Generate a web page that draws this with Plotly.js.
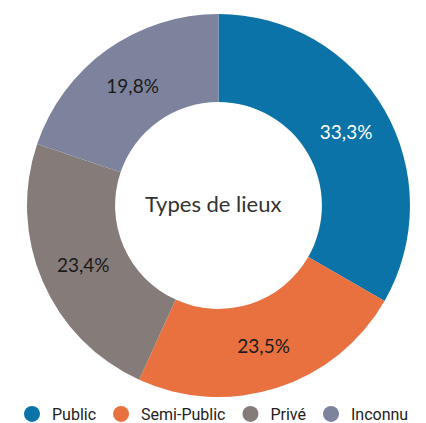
<!DOCTYPE html>
<html>
<head>
<meta charset="utf-8">
<script src="https://cdn.plot.ly/plotly-3.0.1.min.js"></script>
<style>html,body{margin:0;padding:0;background:#fff;}#chart{width:426px;height:423px;}</style>
</head>
<body>
<div id="chart"></div>
<script>
const categories = ["Public", "Semi-Public", "Privé", "Inconnu"];
const values = [33.3, 23.5, 23.4, 19.8];
const colors = ["#0B73A8", "#E8713F", "#857B79", "#7E839D"];
const textColors = ["#ffffff", "#1a1a1a", "#1a1a1a", "#1a1a1a"];
const centerTitle = "Types de lieux";

const pie = {
  type: "pie",
  labels: categories,
  values: values,
  hole: 0.54,
  sort: false,
  direction: "clockwise",
  rotation: 0,
  showlegend: false,
  marker: { colors: colors, line: { width: 0 } },
  texttemplate: "%{percent:.1%}",
  textposition: "inside",
  insidetextorientation: "horizontal",
  insidetextfont: { family: "Lato, sans-serif", size: 19, color: textColors },
  hoverinfo: "none",
  domain: { x: [27/426, 410/426], y: [1 - 397/423, 1 - 14/423] }
};

// legend entries (circle markers) built from the same categories/colours
const legendTraces = categories.map((c, i) => ({
  type: "scatter", mode: "markers", name: c,
  x: [null], y: [null],
  marker: { symbol: "circle", size: 16, color: colors[i] },
  showlegend: true, hoverinfo: "none"
}));

const layout = {
  width: 426, height: 423,
  margin: { l: 0, r: 0, t: 0, b: 0, autoexpand: false },
  paper_bgcolor: "#ffffff",
  plot_bgcolor: "rgba(0,0,0,0)",
  separators: ",.",
  xaxis: { visible: false, domain: [0, 1] },
  yaxis: { visible: false, domain: [0, 1] },
  showlegend: true,
  legend: {
    orientation: "h", x: 0.5, xanchor: "center", y: 1 - 414/423, yanchor: "middle",
    font: { family: "Roboto, sans-serif", size: 16, color: "#222" },
    itemwidth: 30,
    bgcolor: "rgba(0,0,0,0)"
  },
  annotations: [{
    text: centerTitle, x: 0.5, y: 1 - 203/423, xref: "paper", yref: "paper",
    xanchor: "center", yanchor: "middle", showarrow: false,
    font: { family: "Lato, sans-serif", size: 22, color: "#333" }
  }]
};

Plotly.newPlot("chart", [pie].concat(legendTraces), layout, { displayModeBar: false, staticPlot: true });
</script>
</body>
</html>
